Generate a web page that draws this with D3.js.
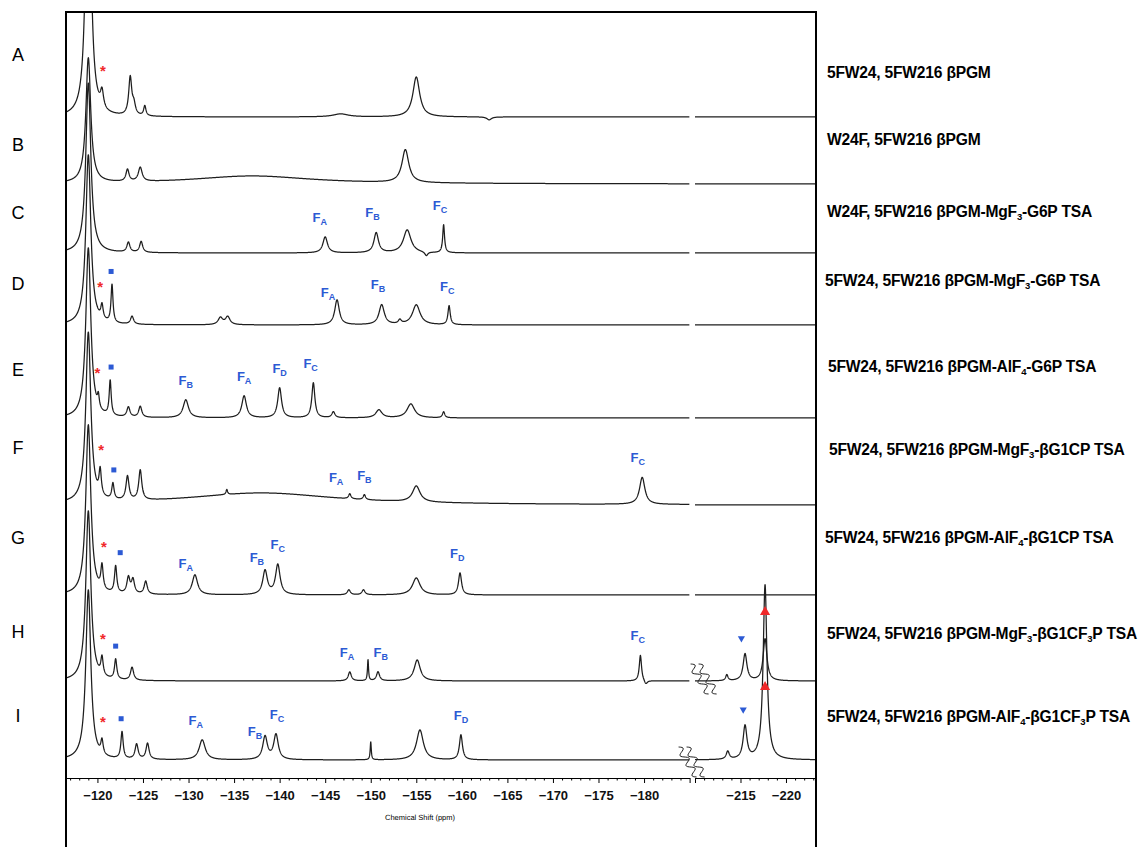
<!DOCTYPE html>
<html><head><meta charset="utf-8">
<script src="https://cdn.jsdelivr.net/npm/d3@7"></script>
<style>body{margin:0;background:#fff}svg{display:block}</style>
</head><body><svg id="c" width="1147" height="847"></svg>
<script>
// ---------- DATA ----------
const traceIds = ["A","B","C","D","E","F","G","H","I"];
const traceNames = [
  "5FW24, 5FW216 βPGM",
  "W24F, 5FW216 βPGM",
  "W24F, 5FW216 βPGM-MgF_3-G6P TSA",
  "5FW24, 5FW216 βPGM-MgF_3-G6P TSA",
  "5FW24, 5FW216 βPGM-AlF_4-G6P TSA",
  "5FW24, 5FW216 βPGM-MgF_3-βG1CP TSA",
  "5FW24, 5FW216 βPGM-AlF_4-βG1CP TSA",
  "5FW24, 5FW216 βPGM-MgF_3-βG1CF_3P TSA",
  "5FW24, 5FW216 βPGM-AlF_4-βG1CF_3P TSA"
];
// stacking offset of each spectrum (intensity units)
const baselines = [661, 594, 525, 453, 360, 273, 183, 97, 18];
// peaks: [ppm, height, half-width (ppm)]
const peaksA = [[-119.0,330,0.3],[-120.5,17,0.2],[-123.6,38,0.2],[-124.0,10,0.2],[-125.2,10,0.15],[-146.7,3,1.0],[-155.0,40,0.45],[-163.0,-3,0.3]];
const peaksB = [[-119.0,125,0.32],[-123.3,12,0.2],[-124.7,14,0.25],[-137.0,8,8],[-153.8,33,0.45]];
const peaksC = [[-119.0,170,0.33],[-123.4,10,0.2],[-124.8,11,0.2],[-145.0,16,0.3],[-150.6,20,0.3],[-154.0,23,0.5],[-156.1,-4,0.2],[-158.0,28,0.12]];
const peaksD = [[-119.0,170,0.33],[-120.5,14,0.15],[-121.6,38,0.13],[-123.8,8,0.2],[-133.5,7,0.3],[-134.3,8,0.3],[-146.3,25,0.3],[-151.2,20,0.35],[-153.2,4,0.2],[-155.0,20,0.5],[-158.6,19,0.15]];
const peaksE = [[-119.0,170,0.33],[-120.1,12,0.12],[-121.4,35,0.13],[-123.4,10,0.2],[-124.7,11,0.2],[-129.7,18,0.35],[-136.1,22,0.3],[-140.0,30,0.25],[-143.7,35,0.2],[-145.9,6,0.2],[-150.9,8,0.4],[-154.4,14,0.5],[-158.0,6,0.15]];
const peaksF = [[-119.0,170,0.33],[-120.3,25,0.15],[-121.7,16,0.15],[-123.3,24,0.2],[-124.7,30,0.2],[-138.0,12,10],[-134.2,5,0.1],[-147.7,5,0.15],[-149.3,5,0.15],[-155.0,16,0.5],[-179.8,27,0.35]];
const peaksG = [[-119.0,170,0.33],[-120.5,24,0.15],[-122.0,27,0.15],[-123.4,16,0.2],[-123.9,14,0.2],[-125.3,13,0.2],[-130.7,20,0.35],[-138.4,24,0.3],[-139.8,30,0.3],[-147.6,5,0.2],[-149.2,5,0.2],[-155.0,17,0.5],[-159.8,22,0.2]];
const peaksH = [[-119.0,170,0.33],[-120.5,18,0.15],[-122.0,20,0.15],[-123.8,13,0.2],[-147.7,9,0.2],[-149.7,21,0.07],[-150.8,9,0.2],[-155.1,21,0.4],[-179.6,26,0.15],[-180.2,-4,0.2],[-213.5,6,0.15],[-215.5,27,0.25],[-217.7,42,0.25]];
const peaksI = [[-119.0,170,0.33],[-120.5,14,0.15],[-122.7,27,0.15],[-124.3,15,0.2],[-125.5,16,0.2],[-131.5,20,0.4],[-138.4,23,0.3],[-139.6,25,0.3],[-150.0,18,0.07],[-155.4,30,0.45],[-159.9,25,0.2],[-213.6,8,0.2],[-215.5,33,0.25],[-217.7,175,0.25]];
const allPeaks = [peaksA,peaksB,peaksC,peaksD,peaksE,peaksF,peaksG,peaksH,peaksI];

// peak assignment labels: [trace index, ppm, subscript]
const peakLabels = [
  [2,-144.4,"A"],[2,-150.2,"B"],[2,-157.6,"C"],
  [3,-145.3,"A"],[3,-150.8,"B"],[3,-158.4,"C"],
  [4,-129.7,"B"],[4,-136.1,"A"],[4,-140.0,"D"],[4,-143.4,"C"],
  [5,-146.2,"A"],[5,-149.3,"B"],[5,-179.3,"C"],
  [6,-129.7,"A"],[6,-137.5,"B"],[6,-139.8,"C"],[6,-159.5,"D"],
  [7,-147.4,"A"],[7,-151.1,"B"],[7,-179.3,"C"],
  [8,-130.8,"A"],[8,-137.3,"B"],[8,-139.7,"C"],[8,-159.9,"D"]
];
const starMarks = [[0,-120.6],[3,-120.3],[4,-120.0],[5,-120.4],[6,-120.7],[7,-120.6],[8,-120.6]];
const squareMarks = [[3,-121.5],[4,-121.5],[5,-121.8],[6,-122.5],[7,-122.0],[8,-122.6]];
const downMarks = [[7,-215.1],[8,-215.3]];
// up triangles: [trace, ppm, level above baseline]
const upMarks = [[7,-217.7,69],[8,-217.7,73]];

const leftTicks = [-120,-125,-130,-135,-140,-145,-150,-155,-160,-165,-170,-175,-180,-185];
const rightTicks = [-210,-215,-220];
const hiddenTickLabels = [-185,-210];
const axisTitle = "Chemical Shift (ppm)";

// ---------- LAYOUT ----------
const W = 1147, H = 847;
const frame = {l:66, r:816, t:12};
const axisY = 778;
const xL = d3.scaleLinear().domain([-116.55,-185]).range([66,689.6]);
const xR = d3.scaleLinear().domain([-210,-223.3]).range([695,816]);
const y = d3.scaleLinear().domain([0,766]).range([axisY,12]);
const letterY = [61,151,219,290,376,454,544,638,722];
const nameY = [78,145,217,286,372,455,543,639,722];
const nameX = [827,827,827,825,828,829,825,827,827];
const BLUE = "#2c5ad4", RED = "#f0282a", INK = "#1e1e1e";
const FONT = "Liberation Sans, Arial, sans-serif";

const svg = d3.select("#c");
svg.append("defs").append("clipPath").attr("id","clipL").append("rect")
  .attr("x",frame.l).attr("y",frame.t).attr("width",xL.range()[1]-frame.l).attr("height",axisY-frame.t);
svg.select("defs").append("clipPath").attr("id","clipR").append("rect")
  .attr("x",xR.range()[0]).attr("y",frame.t).attr("width",frame.r-xR.range()[0]).attr("height",axisY-frame.t);

function val(i, ppm){
  let v = baselines[i];
  for(const [p,h,w] of allPeaks[i]){ const d=(ppm-p)/w; v += h/(1+d*d); }
  return v;
}
function samples(i, a, b, step){
  const out=[]; const n=Math.round(Math.abs(b-a)/step);
  for(let k=0;k<=n;k++){ const p=a+(b-a)*k/n; out.push([p,val(i,p)]); }
  return out;
}
function localMax(i, ppm, r){
  let m=-1e9; for(let p=ppm-r;p<=ppm+r;p+=0.01) m=Math.max(m,val(i,p)); return m;
}
const xOf = p => p >= -185 ? xL(p) : xR(p);

const gL = svg.append("g").attr("clip-path","url(#clipL)");
const gR = svg.append("g").attr("clip-path","url(#clipR)");
traceIds.forEach((id,i)=>{
  const line = d3.line().x(d=>xOf(d[0])).y(d=>y(d[1]));
  gL.append("path").attr("d",line(samples(i,-116.55,-185,0.02)))
    .attr("fill","none").attr("stroke",INK).attr("stroke-width",1.25).attr("stroke-linejoin","round");
  gR.append("path").attr("d",line(samples(i,-210,-223.3,0.02)))
    .attr("fill","none").attr("stroke",INK).attr("stroke-width",1.25).attr("stroke-linejoin","round");
});

// frame
svg.append("path").attr("d",`M${frame.l},${H}V${frame.t}H${frame.r}V${H}`)
  .attr("fill","none").attr("stroke","#000").attr("stroke-width",2);

// axes
function drawAxis(scale, majors, minorRange){
  const minors = d3.range(minorRange[0], minorRange[1]-0.5, -1).filter(v=>!majors.includes(v));
  svg.append("g").attr("transform",`translate(0,${axisY})`)
    .call(d3.axisBottom(scale).tickValues(minors).tickSize(2.5).tickFormat(""))
    .call(g=>g.select(".domain").remove())
    .selectAll("line").attr("stroke","#000");
  const g = svg.append("g").attr("transform",`translate(0,${axisY})`)
    .call(d3.axisBottom(scale).tickValues(majors).tickSize(5).tickSizeOuter(0)
      .tickFormat(v=>hiddenTickLabels.includes(v)?"":d3.format("d")(v)));
  g.select(".domain").attr("stroke","#000");
  g.selectAll("line").attr("stroke","#000");
  g.selectAll("text").attr("font-family",FONT)
    .attr("font-size",13).attr("font-weight","bold").attr("fill","#111").attr("dy","1.05em");
}
drawAxis(xL, leftTicks, [-117,-185]);
drawAxis(xR, rightTicks, [-210,-223]);
svg.append("text").attr("x",420).attr("y",820).attr("text-anchor","middle")
  .attr("font-family",FONT).attr("font-size",7.5).attr("fill","#000").attr("stroke","none")
  .style("text-rendering","geometricPrecision").text(axisTitle);

// row letters
svg.append("g").selectAll("text").data(traceIds).join("text")
  .attr("x",18).attr("y",(d,i)=>letterY[i]).attr("text-anchor","middle")
  .attr("font-family",FONT).attr("font-size",18).attr("fill","#000").text(d=>d);

// right-hand names with subscripts
traceNames.forEach((name,i)=>{
  const t = svg.append("text").attr("x",nameX[i]).attr("y",nameY[i])
    .attr("font-family",FONT).attr("font-size",15.6)
    .attr("font-weight","bold").attr("fill","#000").attr("letter-spacing","-0.2");
  const parts = name.split(/_(\w)/);
  parts.forEach((p,k)=>{
    const s = t.append("tspan").text(p);
    if(k%2===1) s.attr("font-size",9.5).attr("dy",3);
    else if(k>0) s.attr("dy",-3);
  });
});

// peak labels F_x
peakLabels.forEach(([i,p,s])=>{
  const top = localMax(i,p,0.7);
  const t = svg.append("text").attr("x",xOf(p)).attr("y",y(top)-15).attr("text-anchor","middle")
    .attr("font-family",FONT).attr("font-weight","bold")
    .attr("font-size",13).attr("fill",BLUE);
  t.append("tspan").text("F");
  t.append("tspan").attr("font-size",9).attr("dy",3).text(s);
});

// red stars
starMarks.forEach(([i,p])=>{
  const top = localMax(i,p,0.25);
  svg.append("text").attr("x",xOf(p)).attr("y",y(top)-11).attr("text-anchor","middle")
    .attr("font-family",FONT).attr("font-size",15).attr("font-weight","bold")
    .attr("fill",RED).text("*");
});
// blue squares
squareMarks.forEach(([i,p])=>{
  const top = localMax(i,p,0.6);
  svg.append("rect").attr("x",xOf(p)-2.5).attr("y",y(top)-15).attr("width",5).attr("height",5).attr("fill",BLUE);
});
// blue down triangles
downMarks.forEach(([i,p])=>{
  const top = localMax(i,p,0.6);
  svg.append("path").attr("d",d3.symbol(d3.symbolTriangle,22)())
    .attr("transform",`translate(${xOf(p)},${y(top)-15}) rotate(180)`).attr("fill",BLUE);
});
// red up triangles
upMarks.forEach(([i,p,l])=>{
  svg.append("path").attr("d",d3.symbol(d3.symbolTriangle,45)())
    .attr("transform",`translate(${xOf(p)},${y(baselines[i]+l)})`).attr("fill",RED);
});

// axis-break squiggles on spectra H and I
function squiggle(cx, cy){
  const pts = d3.range(0,1.0001,0.05);
  [-4,4].forEach(off=>{
    const line = d3.line().curve(d3.curveBasis)
      .x(t=>cx + off + (t-0.5)*18 + Math.sin(t*Math.PI*6)*3.5)
      .y(t=>cy + (t-0.5)*30 - Math.sin(t*Math.PI*6)*1.5);
    svg.append("path").attr("d",line(pts)).attr("fill","none").attr("stroke",INK).attr("stroke-width",1);
  });
}
squiggle(xL(-185)+14, y(baselines[7])-2);
squiggle(xL(-185)+2, y(baselines[8])+2);
</script></body></html>
